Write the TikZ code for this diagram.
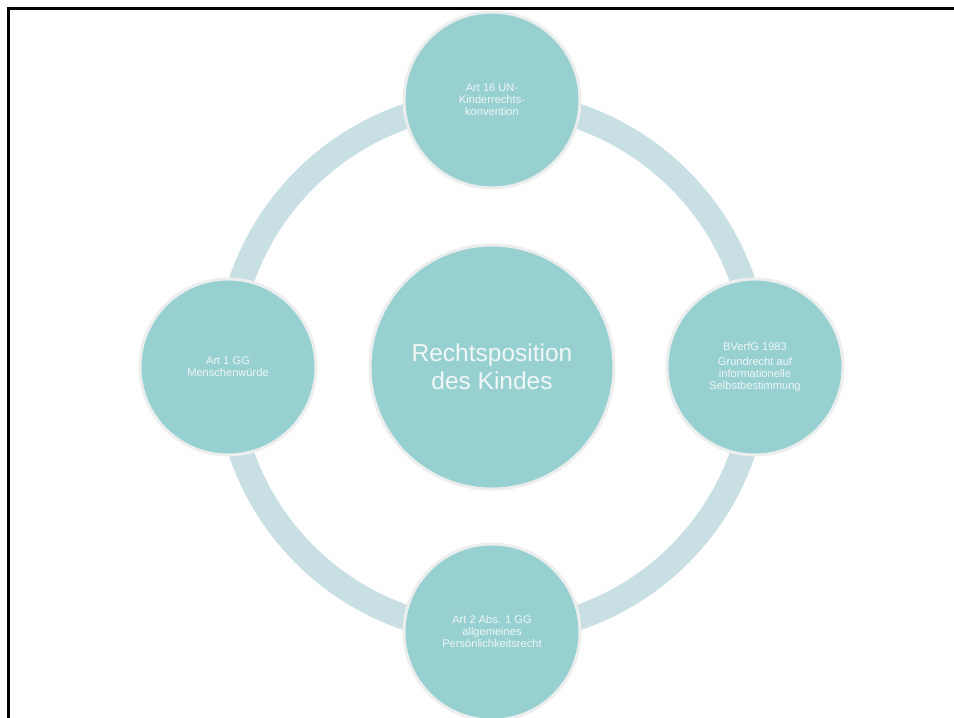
\documentclass[tikz,border=0pt]{standalone}
\usepackage{fontspec}
\setmainfont{Liberation Sans}
\definecolor{teal1}{RGB}{150,208,209}
\definecolor{ringc}{RGB}{200,224,228}
\definecolor{rimc}{RGB}{236,238,238}
\definecolor{txtc}{RGB}{242,246,246}

\begin{document}
\begin{tikzpicture}[x=1pt, y=-1pt,
	leaf/.style={circle, fill=teal1, draw=rimc, line width=3pt, minimum size=176pt, inner sep=0pt, align=center, text=txtc, font=\fontsize{11.1}{12}\selectfont},
	hubnode/.style={circle, fill=teal1, draw=rimc, line width=3pt, minimum size=244pt, inner sep=0pt, align=center, text=txtc, font=\fontsize{24.5}{28}\selectfont}]
	\useasboundingbox (0,0) rectangle (954,718);
	%page frame (only top and left edge visible)
	\draw[line width=3pt] (8.5,718) -- (8.5,8.5) -- (954,8.5);
	
	%ring behind the circles
	\draw[ringc, line width=25pt] (492,367) circle (265);
	
	%centre
	\node[hubnode] (hub) at (492,367) {Rechtsposition\\des Kindes};
	
	%sources
	\node[leaf] (art16) at (492,100) {Art 16 UN-\\Kinderrechts-\\konvention};
	\node[leaf] (bverfg) at (755,367) {BVerfG 1983\\[3pt]Grundrecht auf\\informationelle\\Selbstbestimmung};
	%shadow under bottom circle
	\fill[black!55] (470,714.5) rectangle (514,718);
	\node[leaf] (art2) at (492,632) {Art 2 Abs. 1 GG\\allgemeines\\Persönlichkeitsrecht};
	\node[leaf] (art1) at (228,367) {Art 1 GG\\Menschenwürde};
\end{tikzpicture}
\end{document}
